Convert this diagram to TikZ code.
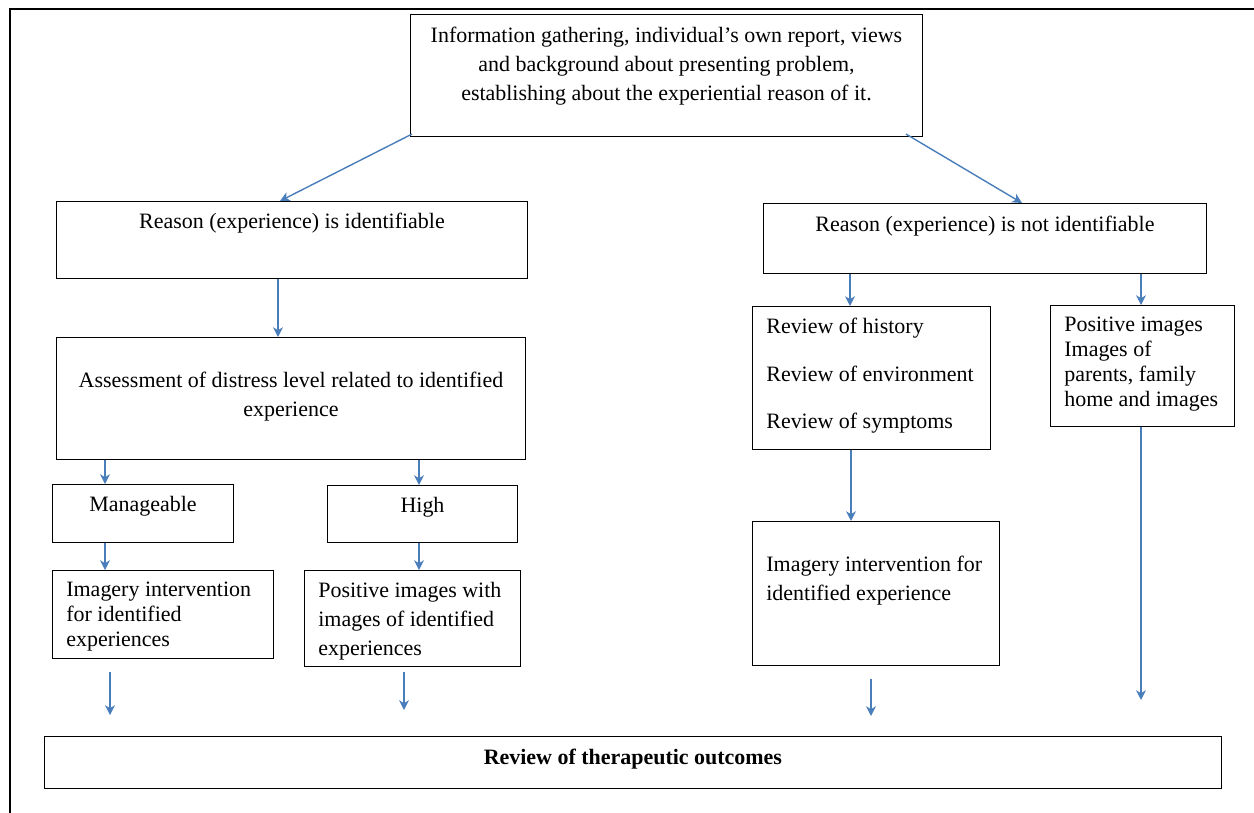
\documentclass[tikz,border=0pt]{standalone}
\usepackage{fontspec}
\setmainfont{Liberation Serif}
\usepackage{tikz}
\usetikzlibrary{calc, arrows.meta, positioning}
\definecolor{azul}{RGB}{74,126,187}

\begin{document}
\begin{tikzpicture}[x=0.02cm, y=-0.02cm, >={Stealth[length=5.5pt, width=5.5pt, inset=1.6pt]}, node distance=0.2cm]
        \tikzstyle{block} = [draw, rectangle, anchor=north west, inner sep=0pt, line width=0.6pt]
        \tikzstyle{texto} = [inner sep=0pt, font=\fontsize{12.5}{16.4}\selectfont]
        \tikzstyle{flecha} = [->, draw=azul, line width=0.8pt]

        \useasboundingbox (0,0) rectangle (1254,812);
        \clip (0,0) rectangle (1254,812);
        \draw[line width=0.6pt] (10,9) rectangle (1262,820); % marco exterior

        % Definición de nodos
        \node[block, minimum width=10.24cm, minimum height=2.44cm] (info) at (410,14) {};
        \node[texto, align=center, below=0.26cm of info.north] (infotxt) {Information gathering, individual’s own report, views\\ and background about presenting problem,\\ establishing about the experiential reason of it.};

        \node[block, minimum width=9.42cm, minimum height=1.54cm] (ident) at (56,201) {};
        \node[texto, below=0.24cm of ident.north] (identtxt) {Reason (experience) is identifiable};

        \node[block, minimum width=8.86cm, minimum height=1.40cm] (noident) at (763,203) {};
        \node[texto, below=0.26cm of noident.north] (noidenttxt) {Reason (experience) is not identifiable};

        \node[block, minimum width=9.38cm, minimum height=2.44cm] (assess) at (56,337) {};
        \node[texto, align=center, below=0.70cm of assess.north] (assesstxt) {Assessment of distress level related to identified\\ experience};

        \node[block, minimum width=3.62cm, minimum height=1.16cm] (manage) at (52,484) {};
        \node[texto, below=0.24cm of manage.north] (managetxt) {Manageable};

        \node[block, minimum width=3.80cm, minimum height=1.14cm] (high) at (327,485) {};
        \node[texto, below=0.24cm of high.north] (hightxt) {High};

        \node[block, minimum width=4.42cm, minimum height=1.76cm] (imag1) at (52,570) {};
        \node[texto, align=left, font=\fontsize{12.5}{14.2}\selectfont, below right=0.24cm and 0.28cm of imag1.north west] (imag1txt) {Imagery intervention\\ for identified\\ experiences};

        \node[block, minimum width=4.32cm, minimum height=1.92cm] (pos1) at (304,570) {};
        \node[texto, align=left, below right=0.24cm and 0.28cm of pos1.north west] (pos1txt) {Positive images with\\ images of identified\\ experiences};

        \node[block, minimum width=4.76cm, minimum height=2.86cm] (review) at (752,306) {};
        \node[texto, align=left, below right=0.24cm and 0.28cm of review.north west] (reviewtxt) {Review of history\\[10.5pt] Review of environment\\[10.5pt] Review of symptoms};

        \node[block, minimum width=3.68cm, minimum height=2.42cm] (posimg) at (1050,305) {};
        \node[texto, align=left, font=\fontsize{12.5}{14.2}\selectfont, below right=0.24cm and 0.28cm of posimg.north west] (posimgtxt) {Positive images\\ Images of\\ parents, family\\ home and images};

        \node[block, minimum width=4.94cm, minimum height=2.88cm] (imag2) at (752,521) {};
        \node[texto, align=left, below right=0.70cm and 0.28cm of imag2.north west] (imag2txt) {Imagery intervention for\\ identified experience};

        \node[block, minimum width=23.54cm, minimum height=1.04cm] (final) at (44,736) {};
        \node[texto, font=\fontsize{12.5}{16.4}\selectfont\bfseries, below=0.26cm of final.north] (finaltxt) {Review of therapeutic outcomes};

        % Flechas
        \draw[flecha] ([shift={(2,-3)}]info.south west) -- (280,0 |- ident.north);
        \draw[flecha] ([shift={(-17,-3)}]info.south east) -- (1022,0 |- noident.north);
        \draw[flecha] (278,0 |- ident.south) -- (278,0 |- assess.north);
        \draw[flecha] (105,0 |- assess.south) -- (105,0 |- manage.north);
        \draw[flecha] (419,0 |- assess.south) -- (419,0 |- high.north);
        \draw[flecha] (105,0 |- manage.south) -- (105,0 |- imag1.north);
        \draw[flecha] (419,0 |- high.south) -- (419,0 |- pos1.north);
        \draw[flecha] (850,0 |- noident.south) -- (850,0 |- review.north);
        \draw[flecha] (1141,0 |- noident.south) -- (1141,0 |- posimg.north);
        \draw[flecha] (851,0 |- review.south) -- (851,0 |- imag2.north);
        \draw[flecha] (1141,0 |- posimg.south) -- ($(1141,0 |- final.north)+(0,-36)$);
        \draw[flecha] ($(110,0 |- imag1.south)+(0,13)$) -- ($(110,0 |- final.north)+(0,-21)$);
        \draw[flecha] ($(404,0 |- pos1.south)+(0,5)$) -- ($(404,0 |- final.north)+(0,-26)$);
        \draw[flecha] ($(871,0 |- imag2.south)+(0,13)$) -- ($(871,0 |- final.north)+(0,-20)$);

\end{tikzpicture}
\end{document}
